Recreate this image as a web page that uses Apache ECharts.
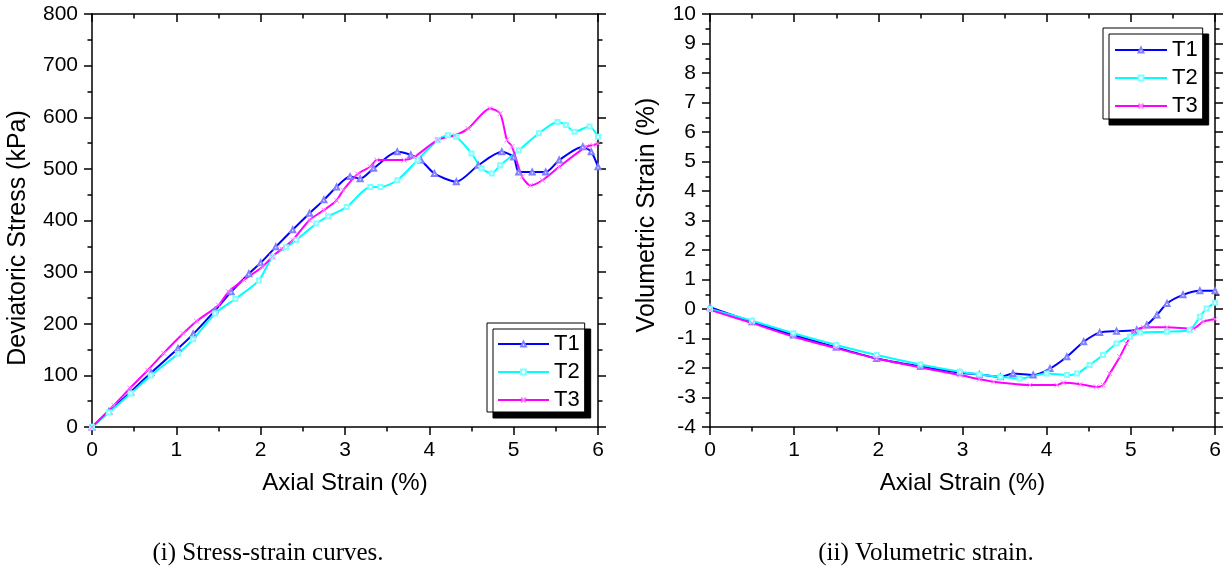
<!DOCTYPE html>
<html>
<head>
<meta charset="utf-8">
<script src="https://cdn.jsdelivr.net/npm/echarts@6/dist/echarts.min.js"></script>
<style>
html,body{margin:0;padding:0;background:#fff;}
#c{width:1225px;height:577px;}
</style>
</head>
<body>
<div id="c"></div>
<script>
// ---- Data: (i) stress-strain ----
const ssStrainT1 = [0,0.2,0.46,0.7,1.02,1.2,1.46,1.65,1.86,2.0,2.18,2.38,2.58,2.75,2.90,3.06,3.18,3.34,3.62,3.78,3.90,4.06,4.32,4.58,4.86,5.00,5.06,5.22,5.38,5.54,5.82,5.92,6.00];
const ssStressT1 = [0,30,68,105,152,180,226,262,297,318,349,382,414,440,465,485,481,501,533,527,517,491,475,507,533,523,494,494,494,517,543,533,504];
const ssStrainT2 = [0,0.2,0.46,0.7,1.02,1.2,1.46,1.7,1.98,2.14,2.3,2.42,2.66,2.8,3.02,3.30,3.42,3.62,3.86,4.10,4.22,4.32,4.50,4.62,4.74,4.84,5.06,5.30,5.52,5.62,5.72,5.90,6.00];
const ssStressT2 = [0,28,65,100,142,170,220,248,284,330,348,362,394,408,426,465,465,478,517,556,565,562,530,501,491,507,536,569,591,585,572,582,562];
const ssStrainT3 = [0,0.26,0.45,0.66,0.85,1.08,1.24,1.50,1.62,1.8,2.02,2.14,2.25,2.38,2.58,2.75,2.90,2.98,3.15,3.30,3.38,3.70,3.82,4.10,4.30,4.46,4.72,4.84,4.92,4.98,5.10,5.20,5.34,5.54,5.86,5.94,6.00];
const ssStressT3 = [0,42,75,110,143,181,205,236,262,285,310,330,345,362,401,420,439,459,490,504,517,517,523,556,565,578,617,607,556,543,485,468,478,504,543,546,549];
// ---- Data: (ii) volumetric strain ----
const vsStrainT1 = [0,0.5,0.99,1.5,1.98,2.5,2.97,3.2,3.45,3.60,3.84,4.04,4.24,4.44,4.63,4.83,5.07,5.19,5.31,5.43,5.62,5.82,6.00];
const vsVolT1 = [0.06,-0.43,-0.88,-1.30,-1.68,-1.95,-2.16,-2.22,-2.30,-2.19,-2.24,-2.02,-1.62,-1.11,-0.80,-0.75,-0.71,-0.54,-0.20,0.19,0.48,0.62,0.62];
const vsStrainT2 = [0,0.5,0.99,1.5,1.98,2.5,2.97,3.2,3.45,3.68,4.00,4.24,4.36,4.51,4.67,4.83,4.99,5.11,5.43,5.70,5.82,5.90,6.00];
const vsVolT2 = [0,-0.40,-0.82,-1.22,-1.56,-1.88,-2.13,-2.22,-2.30,-2.36,-2.19,-2.24,-2.19,-1.90,-1.56,-1.17,-0.94,-0.80,-0.77,-0.71,-0.26,0.02,0.21];
const vsStrainT3 = [0,0.5,0.99,1.5,1.98,2.5,2.97,3.2,3.37,3.80,4.12,4.20,4.40,4.59,4.67,4.75,4.87,4.95,5.03,5.15,5.43,5.74,5.86,6.00];
const vsVolT3 = [-0.03,-0.48,-0.94,-1.33,-1.68,-1.98,-2.24,-2.38,-2.47,-2.58,-2.58,-2.50,-2.55,-2.64,-2.58,-2.19,-1.62,-1.17,-0.77,-0.62,-0.62,-0.66,-0.43,-0.35];

const seriesNames = ['T1','T2','T3'];
const xTicks = [0,1,2,3,4,5,6];
const stressTicks = [0,100,200,300,400,500,600,700,800];
const volTicks = [-4,-3,-2,-1,0,1,2,3,4,5,6,7,8,9,10];
const xTitle = 'Axial Strain (%)';
const yTitleLeft = 'Deviatoric Stress (kPa)';
const yTitleRight = 'Volumetric Strain (%)';
const captions = ['(i) Stress-strain curves.', '(ii) Volumetric strain.'];

function zip(a,b){return a.map((v,i)=>[v,b[i]]);}

const SANS = 'Liberation Sans';
const axisLineStyle = {color:'#000', width:1.5};
function xAx(gridIndex, pos, showLabel){
  return {
    type:'value', gridIndex, position:pos,
    min:xTicks[0], max:xTicks[xTicks.length-1], interval:1,
    axisLine:{show:true, onZero:false, lineStyle:axisLineStyle},
    axisTick:{show:true, inside:pos==='top', length:8, lineStyle:{color:'#000', width:1.5}},
    minorTick:{show:true, splitNumber:2, length:4.5, lineStyle:{color:'#000', width:1.5}},
    splitLine:{show:false},
    axisLabel:{show:showLabel, color:'#000', fontSize:21, fontFamily:SANS, margin:13},
    name: showLabel ? xTitle : '',
    nameLocation:'middle', nameGap:44,
    nameTextStyle:{color:'#000', fontSize:24, fontFamily:SANS}
  };
}
function yAx(gridIndex, pos, ticks, showLabel){
  return {
    type:'value', gridIndex, position:pos,
    min:ticks[0], max:ticks[ticks.length-1], interval:ticks[1]-ticks[0],
    axisLine:{show:true, onZero:false, lineStyle:axisLineStyle},
    axisTick:{show:true, inside:false, length:8, lineStyle:{color:'#000', width:1.5}},
    minorTick:{show:true, splitNumber:2, length:4.5, lineStyle:{color:'#000', width:1.5}},
    splitLine:{show:false},
    axisLabel:{show:showLabel, color:'#000', fontSize:21, fontFamily:SANS, margin:14}
  };
}

const styles = {
  T1:{line:'#0000ff', symbol:'emptyTriangle', size:5, item:{color:'#8080ff'}},
  T2:{line:'#00ffff', symbol:'emptyRect', size:4, item:{color:'#80ffff'}},
  T3:{line:'#ff00ff', symbol:'path://M0,0L10,10M10,0L0,10', size:5, item:{color:'none', borderColor:'#ff80ff', borderWidth:1}}
};
function ser(name, data, xi, yi){
  const s = styles[name];
  return {
    type:'line', name, data, xAxisIndex:xi, yAxisIndex:yi,
    smooth:0.25, symbol:s.symbol, symbolSize:s.size, showSymbol:true,
    lineStyle:{color:s.line, width:2},
    itemStyle:s.item,
    emphasis:{disabled:true}
  };
}

function legend(left, top, w, pad){
  return {
    show:true, orient:'vertical', left, top, data:seriesNames, selectedMode:false,
    itemWidth:w, itemHeight:6, itemGap:6, padding:pad,
    backgroundColor:'#fff', borderColor:'#000', borderWidth:1,
    shadowColor:'#000', shadowBlur:0, shadowOffsetX:6, shadowOffsetY:6,
    textStyle:{color:'#000', fontSize:22, fontFamily:SANS, lineHeight:22}
  };
}

const chart = echarts.init(document.getElementById('c'), null, {renderer:'canvas'});
chart.setOption({
  animation:false,
  backgroundColor:'#fff',
  grid:[
    {left:92, top:14, width:506, height:413},
    {left:710, top:14, width:505, height:413}
  ],
  xAxis:[ xAx(0,'bottom',true), xAx(0,'top',false), xAx(1,'bottom',true), xAx(1,'top',false) ],
  yAxis:[
    yAx(0,'left',stressTicks,true),
    yAx(0,'right',stressTicks,false),
    yAx(1,'left',volTicks,true),
    yAx(1,'right',volTicks,false)
  ],
  legend:[ legend(487,323,51,[10,5,1,10]), legend(1103,28,52,[11,5,2,11]) ],
  series:[
    ser('T1', zip(ssStrainT1, ssStressT1), 0, 0),
    ser('T2', zip(ssStrainT2, ssStressT2), 0, 0),
    ser('T3', zip(ssStrainT3, ssStressT3), 0, 0),
    ser('T1', zip(vsStrainT1, vsVolT1), 2, 2),
    ser('T2', zip(vsStrainT2, vsVolT2), 2, 2),
    ser('T3', zip(vsStrainT3, vsVolT3), 2, 2)
  ],
  graphic:[
    {type:'text', x:18, y:238, rotation:Math.PI/2, style:{text:yTitleLeft, font:'25px "Liberation Sans"', fill:'#000', textAlign:'center', textVerticalAlign:'middle'}},
    {type:'text', x:647, y:215, rotation:Math.PI/2, style:{text:yTitleRight, font:'25px "Liberation Sans"', fill:'#000', textAlign:'center', textVerticalAlign:'middle'}},
    {type:'text', x:268, y:553, style:{text:captions[0], font:'25px "Liberation Serif"', fill:'#000', textAlign:'center', textVerticalAlign:'middle'}},
    {type:'text', x:926, y:553, style:{text:captions[1], font:'25px "Liberation Serif"', fill:'#000', textAlign:'center', textVerticalAlign:'middle'}}
  ]
});
</script>
</body>
</html>
